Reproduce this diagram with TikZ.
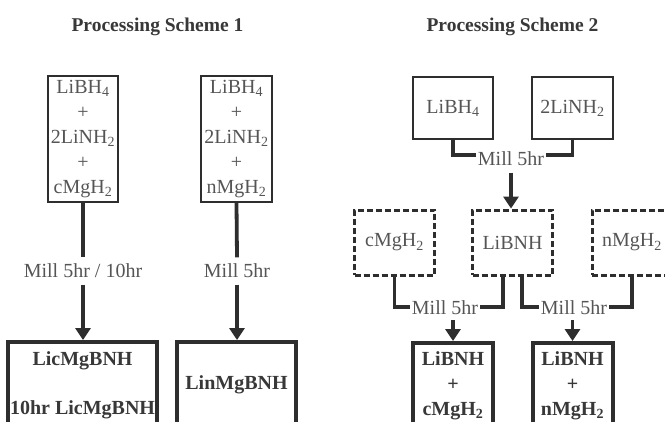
\documentclass[tikz,border=0pt]{standalone}
\usepackage{fontspec}
\setmainfont{Liberation Serif}
\usetikzlibrary{arrows.meta}
\definecolor{ink}{HTML}{2E2E2E}
\definecolor{txt}{HTML}{555555}
\definecolor{btxt}{HTML}{383838}

\begin{document}
\begin{tikzpicture}[x=1pt,y=-1pt,
  every node/.style={font=\fontsize{20}{25}\selectfont, text=txt, align=center, inner sep=0pt},
  thinbox/.style={draw=ink, line width=2.2pt},
  thickbox/.style={draw=ink, line width=4pt, anchor=north, font=\fontsize{20}{25}\selectfont\bfseries, text=btxt},
  dashbox/.style={draw=ink, line width=3pt, dash pattern=on 6pt off 3pt, minimum width=80pt, minimum height=65pt},
  title/.style={font=\fontsize{19.5}{24}\selectfont\bfseries, text=btxt, anchor=base},
  millv/.style={inner xsep=1pt, inner ysep=6.5pt},
  millh/.style={inner xsep=1.5pt, inner ysep=2pt},
  wire/.style={draw=ink, line width=3.8pt},
  feed/.style={wire, -{Triangle[width=15pt,length=12pt]}},
]
\useasboundingbox (0,0) rectangle (665,421);
\fill[white] (0,0) rectangle (665,421);
\clip (0,0) rectangle (665,421);

% headings
\node[title] (head1) at (157.5,31) {Processing Scheme 1};
\node[title] (head2) at (512.5,31) {Processing Scheme 2};

% ---- scheme 1: premixed powders milled directly
\node[thinbox, minimum width=70pt, minimum height=126pt] (mixA) at (83,139)
  {LiBH\textsubscript{4}\\+\\2LiNH\textsubscript{2}\\+\\cMgH\textsubscript{2}};
\node[thinbox, minimum width=71pt, minimum height=126pt] (mixB) at (236.5,139)
  {LiBH\textsubscript{4}\\+\\2LiNH\textsubscript{2}\\+\\nMgH\textsubscript{2}};

\node[millv] (millA) at (83,271) {Mill 5hr / 10hr};
\node[millv] (millB) at (237,271) {Mill 5hr};

\node[thickbox, minimum width=149pt, minimum height=86pt] (prodA) at (82.5,340)
  {LicMgBNH\\[24pt]10hr LicMgBNH};
\node[thickbox, minimum width=119pt, minimum height=86pt] (prodB) at (236.5,340)
  {LinMgBNH};

\draw[wire] (mixA.south) -- (millA.north);
\draw[wire] (mixB.south) -- (millB.north);
\draw[feed] (millA.south) -- (millA.south |- prodA.north);
\draw[feed] (millB.south) -- (millB.south |- prodB.north);

% ---- scheme 2: LiBNH made first, then milled with MgH2
\node[thinbox, minimum width=80pt, minimum height=62pt] (boro) at (453,108) {LiBH\textsubscript{4}};
\node[thinbox, minimum width=81pt, minimum height=62pt] (amide) at (572.5,108) {2LiNH\textsubscript{2}};
\node[millh] (millC) at (511,158.5) {Mill 5hr};

\node[dashbox] (cmg) at (394.5,242.5) {cMgH\textsubscript{2}};
\node[dashbox] (libnh) at (512.5,242.5) {LiBNH};
\node[dashbox] (nmg) at (632,242.5) {nMgH\textsubscript{2}};

\draw[wire] (boro.south) |- ([yshift=3.5pt]millC.west);
\draw[wire] (amide.south) |- ([yshift=3.5pt]millC.east);
\draw[feed] ([yshift=-5pt]millC.south) -- (millC.south |- libnh.north);

\node[millh] (millD) at (445,308) {Mill 5hr};
\node[millh] (millE) at (574,308) {Mill 5hr};

\draw[wire] (cmg.south) |- ([yshift=1pt]millD.west);
\draw[wire] ([xshift=-9.5pt]libnh.south) |- ([yshift=1pt]millD.east);
\draw[wire] ([xshift=9.5pt]libnh.south) |- ([yshift=1pt]millE.west);
\draw[wire] (nmg.south) |- ([yshift=1pt]millE.east);

\node[thickbox, minimum width=80pt, minimum height=85pt] (prodC) at (453,341)
  {LiBNH\\+\\cMgH\textsubscript{2}};
\node[thickbox, minimum width=80pt, minimum height=85pt] (prodD) at (572.5,341)
  {LiBNH\\+\\nMgH\textsubscript{2}};

\draw[feed] ([yshift=-3pt]millD.south -| prodC.north) -- (prodC.north);
\draw[feed] ([yshift=-3pt]millE.south -| prodD.north) -- (prodD.north);
\end{tikzpicture}
\end{document}
